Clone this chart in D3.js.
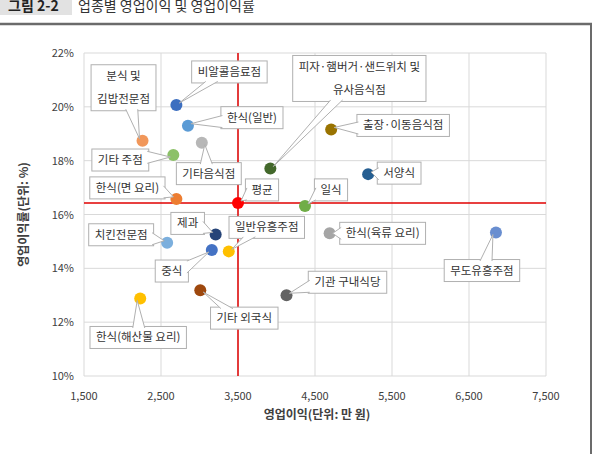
<!DOCTYPE html>
<html>
<head>
<meta charset="utf-8">
<script src="https://cdn.jsdelivr.net/npm/d3@7"></script>
<style>
  body { margin: 0; background: #fff; }
  text { font-family: "Noto Sans CJK KR", "Noto Sans", sans-serif; }
</style>
</head>
<body>
<div id="chart"></div>
<script>
// 업종별 영업이익(만 원) / 영업이익률(%)
var names = ["비알콜음료점", "한식(일반)", "기타음식점", "분식 및|김밥전문점", "기타 주점",
  "피자·햄버거·샌드위치 및|유사음식점", "한식(면 요리)", "평균", "출장·이동음식점", "서양식", "일식",
  "제과", "치킨전문점", "중식", "일반유흥주점", "기타 외국식", "한식(해산물 요리)", "기관 구내식당",
  "한식(육류 요리)", "무도유흥주점"];
var profit = [2700, 2850, 3030, 2260, 2660, 3920, 2700, 3500, 4710, 5190, 4370,
  3210, 2580, 3160, 3380, 3010, 2230, 4130, 4690, 6850];
var margin = [20.07, 19.30, 18.67, 18.74, 18.21, 17.71, 16.58, 16.43, 19.16, 17.50, 16.32,
  15.26, 14.95, 14.68, 14.63, 13.19, 12.88, 13.00, 15.30, 15.33];
var colors = ["#3d6fc0", "#5b9bd5", "#b7b7b7", "#f1975a", "#8cc168", "#43682b", "#ed7d31", "#ff0000",
  "#997300", "#255e91", "#70ad47", "#264478", "#7cafdd", "#4472c4", "#ffc000", "#9e480e",
  "#ffc000", "#636363", "#a5a5a5", "#698ed0"];
var xTicks = [1500, 2500, 3500, 4500, 5500, 6500, 7500];
var yTicks = [10, 12, 14, 16, 18, 20, 22];
var avgProfit = 3500, avgMargin = 16.43;

// label box centre, offset in px from its point
var labelOffset = [[53, -33], [64, -8], [7, 31], [-19, -53], [-53, 5], [89, -90], [-49, -11], [24, -13],
  [72, -4], [31, -1], [26, -16], [-28, -11], [-46, -8], [-40, 21], [38, -24], [44, 28], [-2, 39],
  [61, -13], [53, 0], [-14, 38]];

var W = 593, H = 454;
var svg = d3.select("#chart").append("svg").attr("width", W).attr("height", H);

// header
svg.append("rect").attr("x", 0).attr("y", 0).attr("width", 72).attr("height", 15).attr("fill", "#e2e2e2");
svg.append("text").attr("x", 8).attr("y", 11).attr("font-size", 14).attr("font-weight", "bold")
  .attr("fill", "#222").text("그림 2-2");
svg.append("text").attr("x", 78).attr("y", 11).attr("font-size", 14).attr("fill", "#333")
  .text("업종별 영업이익 및 영업이익률");
svg.append("line").attr("x1", 0).attr("x2", 592).attr("y1", 24).attr("y2", 24)
  .attr("stroke", "#6b6b6b").attr("stroke-width", 2.5);
svg.append("line").attr("x1", 591).attr("x2", 591).attr("y1", 23).attr("y2", H)
  .attr("stroke", "#6b6b6b").attr("stroke-width", 2);

var pL = 84, pR = 546, pT = 53, pB = 376;
var x = d3.scaleLinear().domain([1500, 7500]).range([pL, pR]);
var y = d3.scaleLinear().domain([10, 22]).range([pB, pT]);

// grid
var grid = svg.append("g");
grid.selectAll(".vg").data(xTicks).enter().append("line")
  .attr("x1", d => x(d)).attr("x2", d => x(d)).attr("y1", pT).attr("y2", pB)
  .attr("stroke", "#d9d9d9").attr("stroke-width", 1);
grid.selectAll(".hg").data(yTicks).enter().append("line")
  .attr("x1", pL).attr("x2", pR).attr("y1", d => y(d)).attr("y2", d => y(d))
  .attr("stroke", "#d9d9d9").attr("stroke-width", 1);

// tick labels
svg.append("g").selectAll("text").data(xTicks).enter().append("text")
  .attr("x", d => x(d)).attr("y", pB + 24).attr("text-anchor", "middle")
  .attr("font-size", 11).attr("fill", "#404040").text(d3.format(","));
svg.append("g").selectAll("text").data(yTicks).enter().append("text")
  .attr("x", pL - 10).attr("y", d => y(d) + 4).attr("text-anchor", "end")
  .attr("font-size", 11).attr("fill", "#404040").text(d => d + "%");

// axis titles
svg.append("text").attr("x", (pL + pR) / 2 + 2).attr("y", 419).attr("text-anchor", "middle")
  .attr("font-size", 12).attr("font-weight", "bold").attr("fill", "#404040").text("영업이익(단위: 만 원)");
svg.append("text").attr("transform", "translate(28," + ((pT + pB) / 2) + ") rotate(-90)")
  .attr("text-anchor", "middle").attr("font-size", 12).attr("font-weight", "bold")
  .attr("fill", "#404040").text("영업이익률(단위: %)");

// average lines
svg.append("line").attr("x1", x(avgProfit)).attr("x2", x(avgProfit)).attr("y1", pT).attr("y2", pB)
  .attr("stroke", "#e00000").attr("stroke-width", 1.5);
svg.append("line").attr("x1", pL).attr("x2", pR).attr("y1", y(avgMargin)).attr("y2", y(avgMargin))
  .attr("stroke", "#e00000").attr("stroke-width", 1.5);

var pts = names.map((n, i) => ({ name: n, px: x(profit[i]), py: y(margin[i]), c: colors[i], off: labelOffset[i] }));

// points
svg.append("g").selectAll("circle").data(pts).enter().append("circle")
  .attr("cx", d => d.px).attr("cy", d => d.py).attr("r", 6).attr("fill", d => d.c);

// callout labels
var lab = svg.append("g");
pts.forEach(function (d) {
  var lines = d.name.split("|");
  var g = lab.append("g");
  var cx = d.px + d.off[0], cy = d.py + d.off[1];
  var t = g.append("text").attr("text-anchor", "middle").attr("font-size", 11.5).attr("fill", "#333");
  lines.forEach(function (s, k) {
    t.append("tspan").attr("x", cx).attr("y", cy + 4 + (k - (lines.length - 1) / 2) * 23).text(s);
  });
  var bb = t.node().getBBox();
  var bw = bb.width + 12, bh = lines.length === 1 ? 22 : 46;
  var x0 = cx - bw / 2, y0 = cy - bh / 2, x1 = cx + bw / 2, y1 = cy + bh / 2;
  g.insert("rect", "text").attr("x", x0).attr("y", y0).attr("width", bw).attr("height", bh)
    .attr("fill", "#fff").attr("stroke", "#b0b0b0").attr("stroke-width", 1);
  // wedge toward the point
  var vx = d.px - cx, vy = d.py - cy;
  var hw = 6, b1, b2;
  if (Math.abs(vx) / (bw / 2) > Math.abs(vy) / (bh / 2)) {
    var sx = vx > 0 ? x1 - 1.5 : x0 + 1.5;
    var my = Math.max(y0 + hw + 1, Math.min(y1 - hw - 1, cy + vy * (bw / 2) / Math.abs(vx)));
    b1 = [sx, my - hw]; b2 = [sx, my + hw];
  } else {
    var sy = vy > 0 ? y1 - 1.5 : y0 + 1.5;
    var mx = Math.max(x0 + hw + 1, Math.min(x1 - hw - 1, cx + vx * (bh / 2) / Math.abs(vy)));
    b1 = [mx - hw, sy]; b2 = [mx + hw, sy];
  }
  var tip = [d.px - Math.sign(vx) * 3, d.py - Math.sign(vy) * 2];
  g.insert("path", "text").attr("d", "M" + b1 + "L" + tip + "L" + b2)
    .attr("fill", "#fff").attr("stroke", "#b0b0b0").attr("stroke-width", 1);
});
</script>
</body>
</html>
